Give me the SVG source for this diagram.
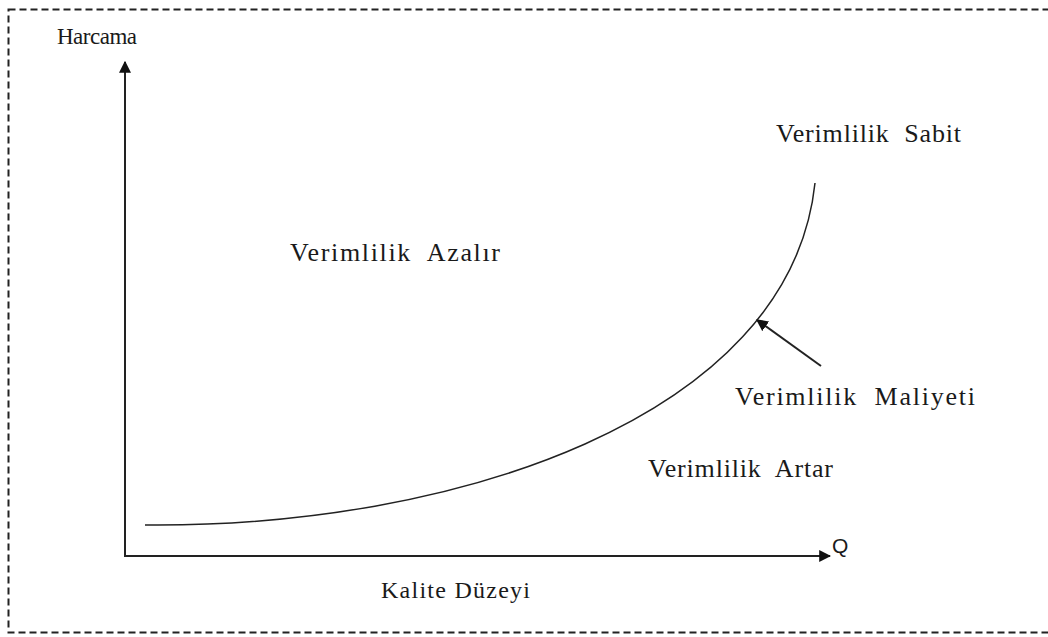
<svg xmlns="http://www.w3.org/2000/svg" width="1048" height="637" viewBox="0 0 1048 637">
<style>
.t{font-family:'Liberation Serif','DejaVu Serif',serif;font-size:26px;fill:#1a1a1a}
.s{font-family:'Liberation Sans','DejaVu Sans',sans-serif;font-size:21px;fill:#1a1a1a}
.ax{stroke:#222;stroke-width:2;fill:none}
.cv{stroke:#222;stroke-width:1.5;fill:none}
</style>
<defs>
<marker id="ah2" viewBox="0 0 10 10" refX="9" refY="5" markerWidth="12" markerHeight="12" orient="auto" markerUnits="userSpaceOnUse">
<path d="M0,0 L10,5 L0,10 z" fill="#111"/>
</marker>
</defs>
<rect x="0" y="0" width="1048" height="637" fill="#fff"/>
<rect id="frame" x="8.5" y="9.5" width="1050" height="623" fill="none" stroke="#222" stroke-width="2" stroke-dasharray="7,4"/>
<g id="connectors">
<line class="ax" x1="125" y1="557" x2="125" y2="62" marker-end="url(#ah2)"/>
<line class="ax" x1="124" y1="556" x2="830" y2="556" marker-end="url(#ah2)"/>
<path class="cv" d="M145,525 C450,528 790,420 815,183"/>
<line class="ax" x1="821" y1="366" x2="757" y2="320" marker-end="url(#ah2)"/>
</g>
<g id="harcama"><text class="t" x="57" y="44" style="font-size:23px" textLength="80">Harcama</text></g>
<g id="sabit"><text class="t" x="776" y="142" textLength="185" xml:space="preserve">Verimlilik  Sabit</text></g>
<g id="azalir"><text class="t" x="290" y="261" textLength="210" xml:space="preserve">Verimlilik  Azalır</text></g>
<g id="maliyeti"><text class="t" x="735" y="405" textLength="240" xml:space="preserve">Verimlilik  Maliyeti</text></g>
<g id="artar"><text class="t" x="648" y="477" textLength="185" xml:space="preserve">Verimlilik  Artar</text></g>
<g id="q"><text class="s" x="832" y="553">Q</text></g>
<g id="kalite"><text class="t" x="381" y="598" style="font-size:24px" textLength="149">Kalite Düzeyi</text></g>
</svg>
